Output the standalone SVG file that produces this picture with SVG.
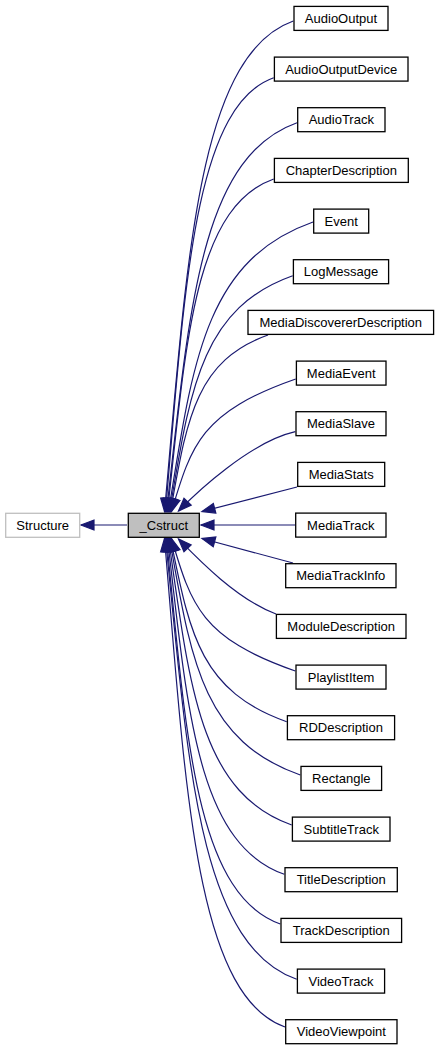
<svg xmlns="http://www.w3.org/2000/svg" width="440" height="1051" viewBox="0 0 440 1051">
<style>
.n rect{fill:#fff;stroke:#000;stroke-width:1.3}
.n text{font-family:"Liberation Sans",Arial,sans-serif;font-size:13px;text-anchor:middle;fill:#000}
#edges path{fill:none;stroke:#191970;stroke-width:1.2;marker-end:url(#ah)}
</style>
<defs>
<marker id="ah" markerUnits="userSpaceOnUse" markerWidth="14" markerHeight="11" refX="13" refY="5" orient="auto" overflow="visible"><path d="M0,0 L13,5 L0,10 z" fill="#191970" stroke="#191970" stroke-width="1.2"/></marker>
</defs>
<rect width="440" height="1051" fill="#fff"/>
<g id="edges">
<path d="M127,525 L81,525"/>
<path d="M293.3,21 C197,55.3 187,261.8 164.5,511.5"/>
<path d="M273.7,77.7 C193,106.5 184.5,290.8 165.5,511.5"/>
<path d="M297,122.7 C199,157.4 189,313.7 166.5,511.5"/>
<path d="M273.7,179 C194,207.2 186,342.4 167.5,511.5"/>
<path d="M313,222 C204,260.4 192.5,364.3 168.5,511.5"/>
<path d="M292.7,275.7 C200,308.5 190,391.7 169.5,511.5"/>
<path d="M268,335 C194.5,360.9 186.5,422 170.5,511.5"/>
<path d="M295.7,379 C201.3,412 191.4,444.4 171.5,511.5"/>
<path d="M295.3,431.7 C250,442 196,493 178.5,511"/>
<path d="M297,487 L202,511.5"/>
<path d="M295,525 L201,525"/>
<path d="M293,563 L202,538.5"/>
<path d="M276,614 C236,599 196,557 178.5,539"/>
<path d="M295.3,671 C201.2,638.1 191.3,605.6 171.5,538.5"/>
<path d="M286.7,721.7 C199,690.8 189.5,631.4 170.5,538.5"/>
<path d="M300.3,775 C201.5,740.2 191,658.6 169.5,538.5"/>
<path d="M291.7,825 C199,792.2 189.5,684.1 168.5,538.5"/>
<path d="M284.3,874.3 C196.5,843.2 187.5,709.3 167.5,538.5"/>
<path d="M280.3,924 C195,893.7 186,734.6 166.5,538.5"/>
<path d="M296.7,979.3 C198.5,944.4 188,762.8 165.5,538.5"/>
<path d="M285,1027 C195,995 185.5,787.1 164.5,538.5"/>
</g>
<g id="Structure" class="n"><rect x="5.7" y="513.3" width="74" height="24" style="stroke:#bfbfbf"/><text x="42.7" y="529.7">Structure</text></g>
<g id="Cstruct" class="n"><rect x="128.3" y="513.3" width="71" height="24" style="fill:#bfbfbf"/><text x="163.8" y="529.7">_Cstruct</text></g>
<g id="AudioOutput" class="n"><rect x="294" y="6.4" width="94" height="24"/><text x="341" y="22.9">AudioOutput</text></g>
<g id="AudioOutputDevice" class="n"><rect x="274.4" y="57.1" width="133.6" height="24"/><text x="341.2" y="73.6">AudioOutputDevice</text></g>
<g id="AudioTrack" class="n"><rect x="297.7" y="107.7" width="87.3" height="24"/><text x="341.3" y="124.2">AudioTrack</text></g>
<g id="ChapterDescription" class="n"><rect x="274.4" y="158.4" width="133.9" height="24"/><text x="341.3" y="174.9">ChapterDescription</text></g>
<g id="Event" class="n"><rect x="313.7" y="209.1" width="55" height="24"/><text x="341.2" y="225.6">Event</text></g>
<g id="LogMessage" class="n"><rect x="293.4" y="259.7" width="95.2" height="24"/><text x="341" y="276.2">LogMessage</text></g>
<g id="MediaDiscovererDescription" class="n"><rect x="248" y="310.4" width="185.6" height="24"/><text x="340.8" y="326.9">MediaDiscovererDescription</text></g>
<g id="MediaEvent" class="n"><rect x="296.4" y="361.1" width="89.6" height="24"/><text x="341.2" y="377.6">MediaEvent</text></g>
<g id="MediaSlave" class="n"><rect x="296" y="411.7" width="90" height="24"/><text x="341" y="428.2">MediaSlave</text></g>
<g id="MediaStats" class="n"><rect x="297.7" y="462.4" width="87" height="24"/><text x="341.2" y="478.9">MediaStats</text></g>
<g id="MediaTrack" class="n"><rect x="295.7" y="513.1" width="90.3" height="24"/><text x="340.8" y="529.6">MediaTrack</text></g>
<g id="MediaTrackInfo" class="n"><rect x="285.7" y="563.7" width="110.3" height="24"/><text x="340.8" y="580.2">MediaTrackInfo</text></g>
<g id="ModuleDescription" class="n"><rect x="276.4" y="614.4" width="129.6" height="24"/><text x="341.2" y="630.9">ModuleDescription</text></g>
<g id="PlaylistItem" class="n"><rect x="296" y="665.1" width="90" height="24"/><text x="341" y="681.6">PlaylistItem</text></g>
<g id="RDDescription" class="n"><rect x="287.4" y="715.7" width="107.2" height="24"/><text x="341" y="732.2">RDDescription</text></g>
<g id="Rectangle" class="n"><rect x="301" y="766.4" width="80.6" height="24"/><text x="341.3" y="782.9">Rectangle</text></g>
<g id="SubtitleTrack" class="n"><rect x="292.4" y="817.1" width="97.6" height="24"/><text x="341.2" y="833.6">SubtitleTrack</text></g>
<g id="TitleDescription" class="n"><rect x="285" y="867.7" width="112.3" height="24"/><text x="341.2" y="884.2">TitleDescription</text></g>
<g id="TrackDescription" class="n"><rect x="281" y="918.4" width="120.6" height="24"/><text x="341.3" y="934.9">TrackDescription</text></g>
<g id="VideoTrack" class="n"><rect x="297.4" y="969.1" width="87.2" height="24"/><text x="341" y="985.6">VideoTrack</text></g>
<g id="VideoViewpoint" class="n"><rect x="285.7" y="1019.7" width="111.3" height="24"/><text x="341.3" y="1036.2">VideoViewpoint</text></g>
</svg>
